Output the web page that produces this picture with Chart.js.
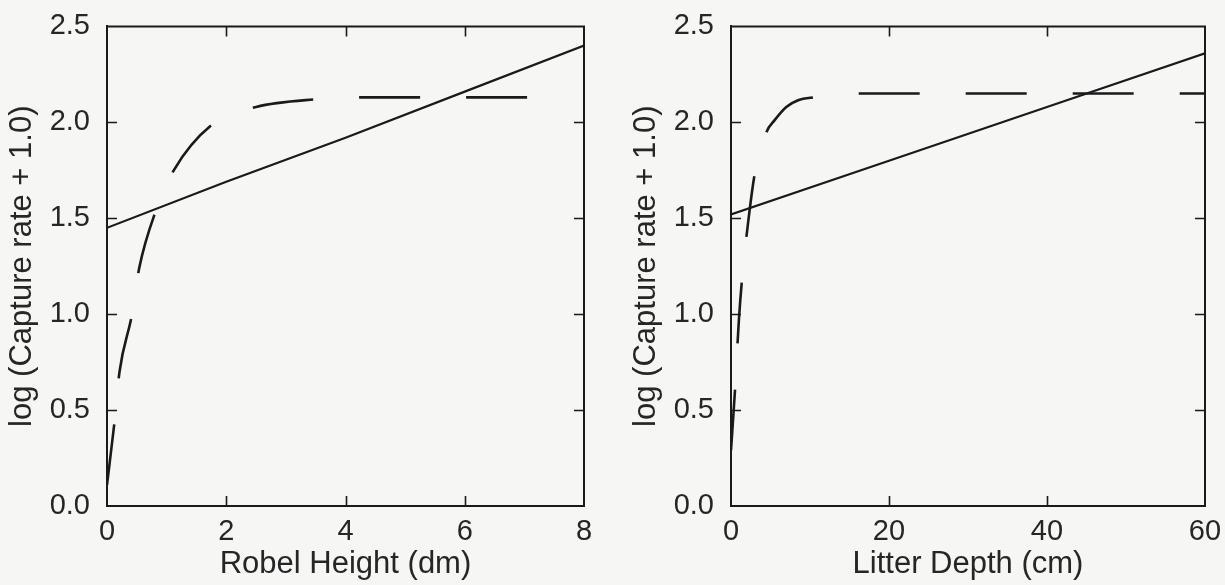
<!DOCTYPE html>
<html>
<head>
<meta charset="utf-8">
<script src="https://cdn.jsdelivr.net/npm/chart.js@4/dist/chart.umd.min.js"></script>
<style>
html,body{margin:0;padding:0;background:#f6f6f4;}
#wrap{position:relative;width:1225px;height:585px;overflow:hidden;background:#f6f6f4;}
canvas{position:absolute;top:0;}
</style>
</head>
<body>
<div id="wrap">
<canvas id="c1" width="624" height="585" style="left:0px"></canvas>
<canvas id="c2" width="601" height="585" style="left:624px"></canvas>
</div>
<script>
// ---- Panel 1: Robel height ----
const robelSolidX = [0, 2, 4, 6, 8];
const robelSolidY = [1.45, 1.69, 1.92, 2.16, 2.40];
const robelDashX = [0, 0.13, 0.21, 0.42, 0.54, 0.82, 1.12, 1.77, 2.5, 3.5, 4.3, 5.5, 7.5];
const robelDashY = [0.11, 0.45, 0.70, 1.00, 1.24, 1.54, 1.75, 1.99, 2.08, 2.12, 2.13, 2.13, 2.13];
const robelXTicks = [0, 2, 4, 6, 8];

// ---- Panel 2: Litter depth ----
const litterSolidX = [0, 20, 40, 60];
const litterSolidY = [1.52, 1.80, 2.08, 2.36];
const litterDashX = [0, 0.5, 1.0, 1.5, 2.0, 3.0, 4.5, 5.5, 7, 8.5, 10.5, 16, 60];
const litterDashY = [0.29, 0.60, 0.97, 1.23, 1.42, 1.73, 1.95, 2.01, 2.08, 2.115, 2.13, 2.15, 2.15];
const litterXTicks = [0, 20, 40, 60];

const yTicks = [0, 0.5, 1.0, 1.5, 2.0, 2.5];
const yTitle = 'log (Capture rate + 1.0)';
const robelTitle = 'Robel Height (dm)';
const litterTitle = 'Litter Depth (cm)';

const FONT = "'Liberation Sans', Arial, sans-serif";
const INK = '#1a1a1a';
const TXT = '#262626';

function pts(xs, ys){ return xs.map((x,i)=>({x:x, y:ys[i]})); }

const frameTicks = {
  id:'frameTicks',
  afterDraw(chart){
    const {ctx, chartArea:a, scales:{x, y}} = chart;
    ctx.save();
    ctx.strokeStyle = INK;
    ctx.lineWidth = 2;
    ctx.beginPath();
    ctx.moveTo(a.left - 1, a.top);
    ctx.lineTo(a.right, a.top);
    ctx.lineTo(a.right, a.bottom + 1);
    ctx.stroke();
    ctx.lineWidth = 1.6;
    ctx.beginPath();
    const L = 10;
    x.ticks.forEach(t => {
      if (t.value === x.min || t.value === x.max) return;
      const px = Math.round(x.getPixelForValue(t.value)) + 0.5;
      ctx.moveTo(px, a.bottom); ctx.lineTo(px, a.bottom - L);
      ctx.moveTo(px, a.top); ctx.lineTo(px, a.top + L);
    });
    y.ticks.forEach(t => {
      if (t.value === y.min || t.value === y.max) return;
      const py = Math.round(y.getPixelForValue(t.value)) + 0.5;
      ctx.moveTo(a.left, py); ctx.lineTo(a.left + L, py);
      ctx.moveTo(a.right, py); ctx.lineTo(a.right - L, py);
    });
    ctx.stroke();
    ctx.restore();
  }
};

function makeChart(id, o){
  return new Chart(document.getElementById(id), {
    type: 'scatter',
    data: { datasets: [
      { data: pts(o.sx, o.sy), showLine:true, borderColor:INK, borderWidth:2.2, pointRadius:0, tension:0 },
      { data: pts(o.dx, o.dy), showLine:true, borderColor:INK, borderWidth:2.6, borderDash:[61,46],
        pointRadius:0, cubicInterpolationMode:'monotone' }
    ]},
    options: {
      responsive:false, animation:false, events:[],
      layout:{ padding:{ top:26, right:o.padRight, left:0, bottom:0 } },
      plugins:{ legend:{display:false}, tooltip:{enabled:false} },
      scales:{
        x:{
          type:'linear', min:o.xTicks[0], max:o.xTicks[o.xTicks.length-1],
          afterBuildTicks: s => { s.ticks = o.xTicks.map(v => ({value:v})); },
          ticks:{ font:{family:FONT, size:29}, color:TXT, padding:1, maxRotation:0, autoSkip:false,
                  callback: v => String(v) },
          grid:{ display:false },
          border:{ display:true, color:INK, width:2 },
          title:{ display:true, text:o.xTitle, color:TXT, font:{family:FONT, size:31}, padding:{top:0, bottom:2} },
          afterFit: s => { s.height = 79; }
        },
        y:{
          type:'linear', min:0, max:2.5,
          afterBuildTicks: s => { s.ticks = yTicks.map(v => ({value:v})); },
          ticks:{ font:{family:FONT, size:29}, color:TXT, padding:9, autoSkip:false,
                  callback: v => Number(v).toFixed(1) },
          grid:{ display:false },
          border:{ display:true, color:INK, width:2 },
          title:{ display:true, text:yTitle, color:TXT, font:{family:FONT, size:31}, padding:{top:4, bottom:0} },
          afterFit: s => { s.width = 107; }
        }
      }
    },
    plugins:[frameTicks]
  });
}

makeChart('c1', { sx:robelSolidX, sy:robelSolidY, dx:robelDashX, dy:robelDashY,
  xTicks:robelXTicks, xTitle:robelTitle, padRight:40 });
makeChart('c2', { sx:litterSolidX, sy:litterSolidY, dx:litterDashX, dy:litterDashY,
  xTicks:litterXTicks, xTitle:litterTitle, padRight:20 });
</script>
</body>
</html>
